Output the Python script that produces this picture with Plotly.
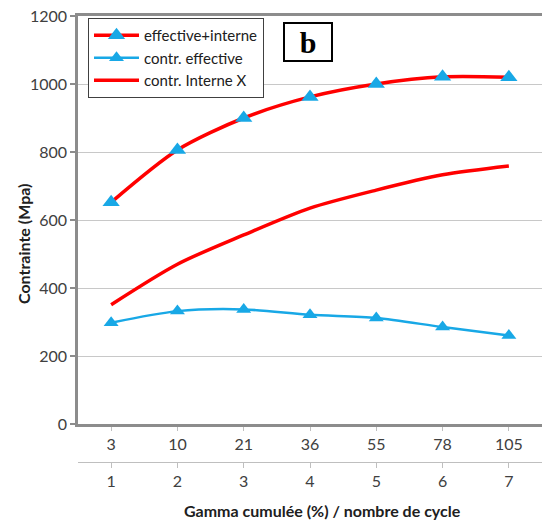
import plotly.graph_objects as go

cycles = [1, 2, 3, 4, 5, 6, 7]
gamma_labels = ["3", "10", "21", "36", "55", "78", "105"]
cycle_labels = ["1", "2", "3", "4", "5", "6", "7"]

eff_plus_int = [652, 806, 900, 962, 1000, 1021, 1020]
contr_eff = [298, 332, 337, 321, 312, 285, 260]
contr_int_x = [351, 470, 556, 635, 688, 733, 759]

RED = "#ff0000"
BLUE = "#18a8e6"
FONT = "Lato, 'Open Sans', sans-serif"

# plot area in pixels: x 78..542, y 16..462
PW, PH = 464, 446


def px(xp):
    return (xp - 78) / PW


def py(yp):
    return (462 - yp) / PH


fig = go.Figure()
fig.add_trace(go.Scatter(
    x=cycles, y=contr_int_x, name="contr. Interne X", mode="lines",
    xaxis="x2", yaxis="y", legendrank=3,
    line=dict(color=RED, width=3.5, shape="spline", smoothing=0.8),
))
fig.add_trace(go.Scatter(
    x=cycles, y=contr_eff, name="contr. effective", mode="lines+markers", legendrank=2,
    line=dict(color=BLUE, width=2.5, shape="spline", smoothing=0.8),
    marker=dict(symbol="triangle-up", size=13, color=BLUE),
))
fig.add_trace(go.Scatter(
    x=cycles, y=eff_plus_int, name="effective+interne", mode="lines+markers", legendrank=1,
    line=dict(color=RED, width=3.5, shape="spline", smoothing=0.8),
    marker=dict(symbol="triangle-up", size=15, color=BLUE),
))

fig.update_layout(
    width=542, height=524,
    margin=dict(l=78, r=0, t=16, b=62, autoexpand=False),
    paper_bgcolor="white", plot_bgcolor="white",
    font=dict(family=FONT, color="#404040", size=15),
    showlegend=True,
    legend=dict(
        x=px(88), y=py(18), xanchor="left", yanchor="top",
        bgcolor="white", bordercolor="#404040", borderwidth=1,
        font=dict(size=15, color="#202020"),
        tracegroupgap=0, itemwidth=45,
    ),
    xaxis=dict(
        range=[0.5, 7.5], tickmode="array", tickvals=cycles, ticktext=gamma_labels,
        showgrid=False, zeroline=False, automargin=False,
        showline=True, linecolor="#8c8c8c", linewidth=2.5, mirror=True,
        ticks="outside", ticklen=4, tickcolor="#bfbfbf", tickwidth=1,
        tickfont=dict(size=16, color="#404040"),
        anchor="y", fixedrange=True,
    ),
    xaxis2=dict(
        range=[0.5, 7.5], tickmode="array", tickvals=cycles, ticktext=cycle_labels,
        overlaying="x", anchor="free", position=0, side="bottom",
        showgrid=False, zeroline=False, automargin=False,
        showline=True, linecolor="#bfbfbf", linewidth=1,
        ticks="outside", ticklen=5, tickcolor="#bfbfbf",
        tickfont=dict(size=16, color="#404040"),
        fixedrange=True,
    ),
    yaxis=dict(
        domain=[py(462 - 38), 1], range=[0, 1200], tickvals=[0, 200, 400, 600, 800, 1000, 1200],
        showgrid=True, gridcolor="#c8c8c8", gridwidth=1, zeroline=False, automargin=False,
        showline=True, linecolor="#8c8c8c", linewidth=2.5,
        ticks="outside", ticklen=5, tickcolor="#8c8c8c", tickwidth=1.5,
        tickfont=dict(size=16, color="#404040"),
        fixedrange=True,
    ),
    annotations=[
        dict(
            x=px(308), y=py(42), xref="paper", yref="paper", xanchor="center", yanchor="middle",
            text="<b>b</b>", showarrow=False,
            font=dict(family="'Liberation Serif', 'DejaVu Serif', serif", size=30, color="black"),
            bordercolor="black", borderwidth=2, borderpad=2, bgcolor="white",
            width=42, height=32,
        ),
        dict(
            x=px(322), y=py(510), xref="paper", yref="paper", xanchor="center", yanchor="middle",
            text="<b>Gamma cumulée (%) / nombre de cycle</b>", showarrow=False,
            font=dict(size=16, color="#202020"),
        ),
        dict(
            x=px(24), y=py(244), xref="paper", yref="paper", xanchor="center", yanchor="middle",
            text="<b>Contrainte (Mpa)</b>", showarrow=False, textangle=-90,
            font=dict(size=16, color="#202020"),
        ),
    ],
)

fig.write_html(
    "out.html",
    config={"displayModeBar": False},
    post_script="document.body.style.margin='0';document.body.style.padding='0';",
)
